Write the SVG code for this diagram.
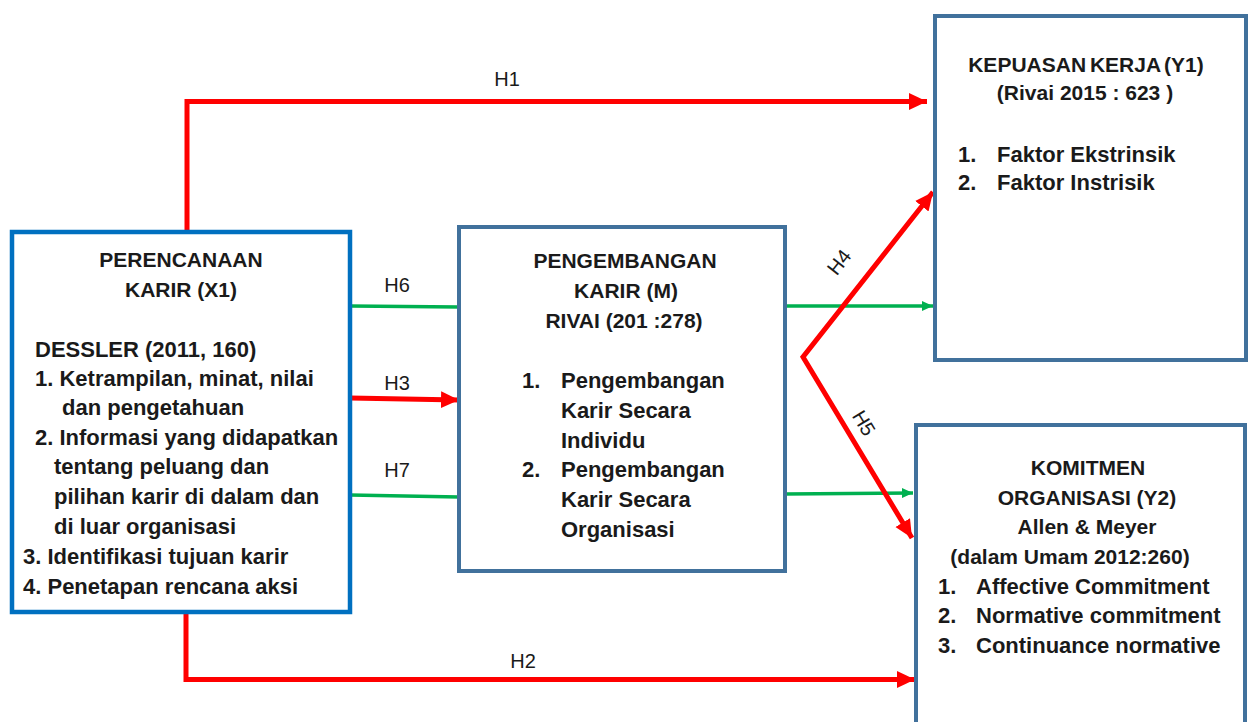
<svg xmlns="http://www.w3.org/2000/svg" width="1248" height="722" viewBox="0 0 1248 722">
<defs>
<style>
.box{fill:#ffffff;stroke:#41719C;stroke-width:4}
.boxb{fill:#ffffff;stroke:#0070C0;stroke-width:4.5}
.t{font-family:"Liberation Sans",Arial,sans-serif;font-weight:bold;font-size:22px;fill:#1a1a1a}
.tt{font-family:"Liberation Sans",Arial,sans-serif;font-weight:bold;font-size:21px;fill:#1a1a1a;text-anchor:middle}
.h{font-family:"Liberation Sans",Arial,sans-serif;font-size:20px;fill:#1a1a1a;text-anchor:middle}
.red{fill:none;stroke:#FF0000;stroke-width:5}
.grn{fill:none;stroke:#00B050;stroke-width:3.5}
</style>
<marker id="ar" markerUnits="userSpaceOnUse" markerWidth="20" markerHeight="18" refX="18" refY="8.5" orient="auto-start-reverse">
<path d="M0,0 L18,8.5 L0,17 Z" fill="#FF0000"/>
</marker>
<marker id="ag" markerUnits="userSpaceOnUse" markerWidth="12" markerHeight="11" refX="11" refY="5" orient="auto">
<path d="M0,0 L11,5 L0,10 Z" fill="#00B050"/>
</marker>
</defs>
<rect width="1248" height="722" fill="#ffffff"/>

<g id="connectors">
<path class="red" d="M187,232 V101.5 H927" marker-end="url(#ar)"/>
<path class="red" d="M186,613 V679.5 H915" marker-end="url(#ar)"/>
<path class="grn" d="M350,306 L459,307"/>
<path class="red" d="M350,398 L459,400" marker-end="url(#ar)"/>
<path class="grn" d="M350,495 L459,497"/>
<path class="grn" d="M785,306 L933,306" marker-end="url(#ag)"/>
<path class="grn" d="M785,494 L913,493" marker-end="url(#ag)"/>
<path class="red" d="M933,192 L803,357 L912,538" marker-start="url(#ar)" marker-end="url(#ar)"/>
<text class="h" x="507" y="86">H1</text>
<text class="h" x="523" y="668">H2</text>
<text class="h" x="397" y="292">H6</text>
<text class="h" x="397" y="390">H3</text>
<text class="h" x="397" y="477">H7</text>
<text class="h" transform="translate(839,262) rotate(-52)" x="0" y="7">H4</text>
<text class="h" transform="translate(864,423) rotate(59)" x="0" y="7">H5</text>
</g>

<g id="node-x1">
<rect class="boxb" x="12" y="232" width="338" height="380"/>
<text class="tt" x="181" y="267">PERENCANAAN</text>
<text class="tt" x="181" y="297">KARIR (X1)</text>
<text class="t" x="35" y="357">DESSLER (2011, 160)</text>
<text class="t" x="35" y="386">1. Ketrampilan, minat, nilai</text>
<text class="t" x="62" y="415">dan pengetahuan</text>
<text class="t" x="35" y="445">2. Informasi yang didapatkan</text>
<text class="t" x="54" y="474">tentang peluang dan</text>
<text class="t" x="54" y="504">pilihan karir di dalam dan</text>
<text class="t" x="54" y="534">di luar organisasi</text>
<text class="t" x="23" y="564">3. Identifikasi tujuan karir</text>
<text class="t" x="23" y="594">4. Penetapan rencana aksi</text>
</g>

<g id="node-m">
<rect class="box" x="459" y="227" width="326" height="344"/>
<text class="tt" x="625" y="268">PENGEMBANGAN</text>
<text class="tt" x="626" y="298">KARIR (M)</text>
<text class="tt" x="624" y="328">RIVAI (201 :278)</text>
<text class="t" x="522" y="388">1.</text>
<text class="t" x="561" y="388">Pengembangan</text>
<text class="t" x="561" y="418">Karir Secara</text>
<text class="t" x="561" y="448">Individu</text>
<text class="t" x="522" y="477">2.</text>
<text class="t" x="561" y="477">Pengembangan</text>
<text class="t" x="561" y="507">Karir Secara</text>
<text class="t" x="561" y="537">Organisasi</text>
</g>

<g id="node-y1">
<rect class="box" x="935" y="16" width="311" height="344"/>
<text class="tt" x="1086" y="72" word-spacing="-2">KEPUASAN KERJA (Y1)</text>
<text class="tt" x="1085" y="100">(Rivai 2015 : 623 )</text>
<text class="t" x="958" y="162">1.</text>
<text class="t" x="997" y="162">Faktor Ekstrinsik</text>
<text class="t" x="958" y="190">2.</text>
<text class="t" x="997" y="190">Faktor Instrisik</text>
</g>

<g id="node-y2">
<rect class="box" x="916" y="425" width="329" height="320"/>
<text class="tt" x="1088" y="475">KOMITMEN</text>
<text class="tt" x="1087" y="505">ORGANISASI (Y2)</text>
<text class="tt" x="1087" y="534">Allen &amp; Meyer</text>
<text class="tt" x="1070" y="564">(dalam Umam 2012:260)</text>
<text class="t" x="938" y="594">1.</text>
<text class="t" x="976" y="594">Affective Commitment</text>
<text class="t" x="938" y="623">2.</text>
<text class="t" x="976" y="623">Normative commitment</text>
<text class="t" x="938" y="653">3.</text>
<text class="t" x="976" y="653">Continuance normative</text>
</g>
</svg>
